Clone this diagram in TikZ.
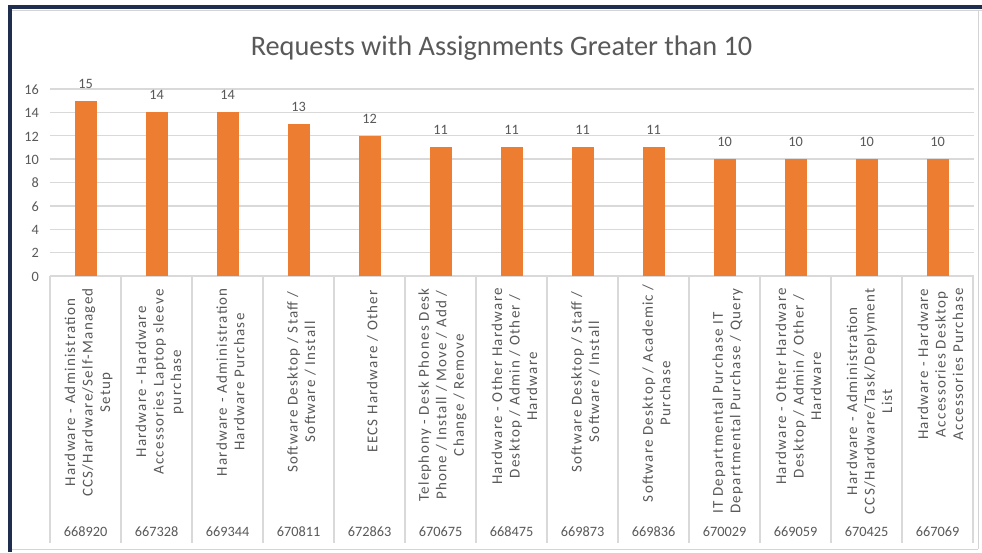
\documentclass[tikz,border=0pt]{standalone}
\usepackage{fontspec}
\setmainfont{Carlito}
\newfontfamily\labfont[LetterSpace=8.5]{Carlito}
\definecolor{navy}{HTML}{1F2D4E}
\definecolor{gridgray}{HTML}{D9D9D9}
\definecolor{framegray}{HTML}{D4D4D4}
\definecolor{barorange}{HTML}{ED7D31}
\definecolor{txtgray}{HTML}{595959}
\begin{document}
\begin{tikzpicture}[x=1pt,y=-1pt,
  txt/.style={text=txtgray, inner sep=0pt, font=\fontsize{14.3}{17.5}\selectfont},
  catlab/.style={text=txtgray, inner sep=0pt, font=\labfont\fontsize{15}{17.5}\selectfont, rotate=90, anchor=east, align=center},
  gridline/.style={draw=gridgray, line width=1.3pt},
  catline/.style={draw=gridgray, line width=1.2pt},
  bar/.style={fill=barorange, draw=none}]
\useasboundingbox (0,0) rectangle (982,552);
\fill[white] (0,0) rectangle (982,552);
% frame
\fill[navy] (8,5) rectangle (982,9.3);
\fill[navy] (8,5) rectangle (12.3,552);
\draw[framegray, line width=1pt] (12.3,10) -- (982,10);
\draw[framegray, line width=1pt] (12.3,549) -- (978,549);
\draw[framegray, line width=1pt] (978,10) -- (978,549);
% title
\node[text=txtgray, inner sep=0pt, anchor=base, font=\fontsize{28.3}{34}\selectfont] (title) at (501.5,55) {Requests with Assignments Greater than 10};
% gridlines and y labels
\foreach \v in {0,2,...,16} {
  \draw[gridline] (50,{276-\v*11.6875}) -- (974,{276-\v*11.6875});
  \node[txt, anchor=base east] (y\v) at (39,{276-\v*11.6875+5.3}) {\v};
}
% category dividers
\foreach \k in {0,...,13} {
  \draw[catline] ({50+71*\k},276) -- ({50+71*\k},543);
}
% bars, values, ids
\foreach \i/\v/\id in {1/15/668920,2/14/667328,3/14/669344,4/13/670811,5/12/672863,6/11/670675,7/11/668475,8/11/669873,9/11/669836,10/10/670029,11/10/669059,12/10/670425,13/10/667069} {
  \pgfmathsetmacro{\cx}{50+71*(\i-0.5)}
  \pgfmathsetmacro{\ty}{276-\v*11.6875}
  \fill[barorange] (\cx-11,\ty) rectangle (\cx+11,276);
  \node[txt, anchor=base] (v\i) at (\cx,\ty-12.5) {\v};
  \node[txt, anchor=base] (id\i) at (\cx,536.7) {\id};
}
% category labels
\node[catlab] (c1) at (88.5,288) {Hardware - Administration\\CCS/Hardware/Self-Managed\\Setup};
\node[catlab] (c2) at (159.5,289) {Hardware - Hardware\\Accessories Laptop sleeve\\purchase};
\node[catlab] (c3) at (230.5,288) {Hardware - Administration\\Hardware Purchase};
\node[catlab] (c4) at (301.5,291) {Software Desktop / Staff /\\Software / Install};
\node[catlab] (c5) at (372.5,290) {EECS Hardware / Other};
\node[catlab] (c6) at (442.5,288) {Telephony - Desk Phones Desk\\Phone / Install / Move / Add /\\Change / Remove};
\node[catlab] (c7) at (514.5,288) {Hardware - Other Hardware\\Desktop / Admin / Other /\\Hardware};
\node[catlab] (c8) at (585.5,291) {Software Desktop / Staff /\\Software / Install};
\node[catlab] (c9) at (656.5,284) {Software Desktop / Academic /\\Purchase};
\node[catlab, align=left] (c10) at (727.5,288) {IT Departmental Purchase IT\\Departmental Purchase / Query};
\node[catlab] (c11) at (798.5,288) {Hardware - Other Hardware\\Desktop / Admin / Other /\\Hardware};
\node[catlab] (c12) at (869.5,288) {Hardware - Administration\\CCS/Hardware/Task/Deplyment\\List};
\node[catlab] (c13) at (940.5,288) {Hardware - Hardware\\Accessories Desktop\\Accessories Purchase};
\end{tikzpicture}
\end{document}
